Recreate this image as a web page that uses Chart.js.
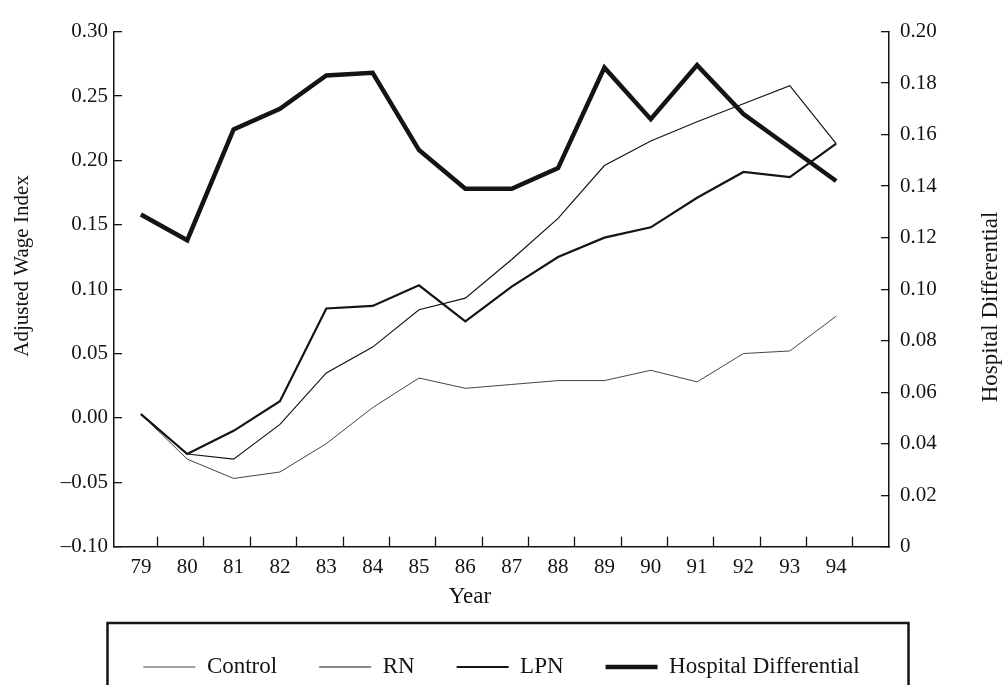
<!DOCTYPE html>
<html>
<head>
<meta charset="utf-8">
<script src="https://cdn.jsdelivr.net/npm/chart.js@4.4.1/dist/chart.umd.min.js"></script>
<style>
  html, body { margin: 0; padding: 0; background: #fff; }
  #chart { display: block; }
</style>
</head>
<body>
<canvas id="chart" width="1003" height="685"></canvas>
<script>
// values
const years = [79, 80, 81, 82, 83, 84, 85, 86, 87, 88, 89, 90, 91, 92, 93, 94];
const control = [0.003, -0.032, -0.047, -0.042, -0.020, 0.008, 0.031, 0.023, 0.026, 0.029, 0.029, 0.037, 0.028, 0.050, 0.052, 0.079];
const rn = [0.003, -0.028, -0.032, -0.005, 0.035, 0.055, 0.084, 0.093, 0.123, 0.155, 0.196, 0.215, 0.230, 0.244, 0.258, 0.213];
const lpn = [0.003, -0.028, -0.010, 0.013, 0.085, 0.087, 0.103, 0.075, 0.102, 0.125, 0.140, 0.148, 0.171, 0.191, 0.187, 0.213];
const hospitalDiff = [0.129, 0.119, 0.162, 0.170, 0.183, 0.184, 0.154, 0.139, 0.139, 0.147, 0.186, 0.166, 0.187, 0.168, 0.155, 0.142];

const INK = '#141414';
const FONT = 'Liberation Serif';

const pts = arr => arr.map((v, i) => ({ x: years[i], y: v }));

const fmtLeft = v => {
    if (Math.abs(v) < 1e-9) return '0.00';
    return v < 0 ? '\u2013' + Math.abs(v).toFixed(2) : v.toFixed(2);
};
const fmtRight = v => Math.abs(v) < 1e-9 ? '0' : v.toFixed(2);

// short inward tick marks sitting just right of each year label, legend frame, titles
const extras = {
    id: 'extras',
    afterDraw(chart) {
        const ctx = chart.ctx;
        const x = chart.scales.x;
        const area = chart.chartArea;
        ctx.save();
        ctx.strokeStyle = INK;
        ctx.lineWidth = 1.3;
        years.forEach(yr => {
            const px = Math.round(x.getPixelForValue(yr + 0.35)) + 0.5;
            ctx.beginPath();
            ctx.moveTo(px, area.bottom);
            ctx.lineTo(px, area.bottom - 10);
            ctx.stroke();
        });

        // box round the legend (its bottom edge falls off the page)
        ctx.lineWidth = 2.5;
        ctx.strokeRect(107.5, 623, 801, 100);

        ctx.fillStyle = INK;
        ctx.textAlign = 'center';
        ctx.textBaseline = 'middle';
        ctx.font = '23px "' + FONT + '"';
        ctx.fillText('Year', 470, 597);

        ctx.save();
        ctx.translate(991, 307);
        ctx.rotate(-Math.PI / 2);
        ctx.fillText('Hospital Differential', 0, 0);
        ctx.restore();

        ctx.font = '21px "' + FONT + '"';
        ctx.translate(22, 266);
        ctx.rotate(-Math.PI / 2);
        ctx.fillText('Adjusted Wage Index', 0, 0);
        ctx.restore();
    }
};

new Chart(document.getElementById('chart'), {
    type: 'line',
    data: {
        datasets: [
            { label: 'Control', data: pts(control), borderColor: INK, borderWidth: 0.8, yAxisID: 'y' },
            { label: 'RN', data: pts(rn), borderColor: INK, borderWidth: 1.2, yAxisID: 'y' },
            { label: 'LPN', data: pts(lpn), borderColor: INK, borderWidth: 2.2, yAxisID: 'y' },
            { label: 'Hospital Differential', data: pts(hospitalDiff), borderColor: INK, borderWidth: 4.5, yAxisID: 'y2' }
        ]
    },
    options: {
        responsive: false,
        animation: false,
        events: [],
        layout: { padding: { top: 20.7, left: 0, right: 0, bottom: 0 } },
        elements: {
            point: { radius: 0 },
            line: { tension: 0, fill: false, borderCapStyle: 'butt', borderJoinStyle: 'miter' }
        },
        plugins: {
            tooltip: { enabled: false },
            legend: {
                position: 'bottom',
                maxHeight: 71.5,
                labels: {
                    usePointStyle: true,
                    pointStyle: 'line',
                    pointStyleWidth: 52,
                    padding: 42,
                    color: INK,
                    font: { family: FONT, size: 23 }
                }
            }
        },
        scales: {
            x: {
                type: 'linear',
                position: 'bottom',
                min: 78.42,
                max: 95.14,
                afterBuildTicks: s => { s.ticks = years.map(v => ({ value: v })); },
                afterFit: s => { s.height = 66.8; },
                ticks: {
                    autoSkip: false,
                    maxRotation: 0,
                    padding: 7.7,
                    color: INK,
                    font: { family: FONT, size: 21 },
                    callback: v => String(v)
                },
                grid: { display: false, drawTicks: false },
                border: { display: true, color: INK, width: 1.5 }
            },
            y: {
                position: 'left',
                min: -0.1,
                max: 0.3,
                afterFit: s => { s.width = 114; },
                ticks: {
                    stepSize: 0.05,
                    padding: 14,
                    color: INK,
                    font: { family: FONT, size: 21 },
                    callback: fmtLeft
                },
                grid: { drawOnChartArea: false, drawTicks: true, tickLength: -8, color: INK, lineWidth: 1.3 },
                border: { display: true, color: INK, width: 1.5 }
            },
            y2: {
                position: 'right',
                min: 0,
                max: 0.2,
                afterFit: s => { s.width = 114; },
                ticks: {
                    stepSize: 0.02,
                    padding: 19,
                    color: INK,
                    font: { family: FONT, size: 21 },
                    callback: fmtRight
                },
                grid: { drawOnChartArea: false, drawTicks: true, tickLength: -8, color: INK, lineWidth: 1.3 },
                border: { display: true, color: INK, width: 1.5 }
            }
        }
    },
    plugins: [extras]
});
</script>
</body>
</html>
